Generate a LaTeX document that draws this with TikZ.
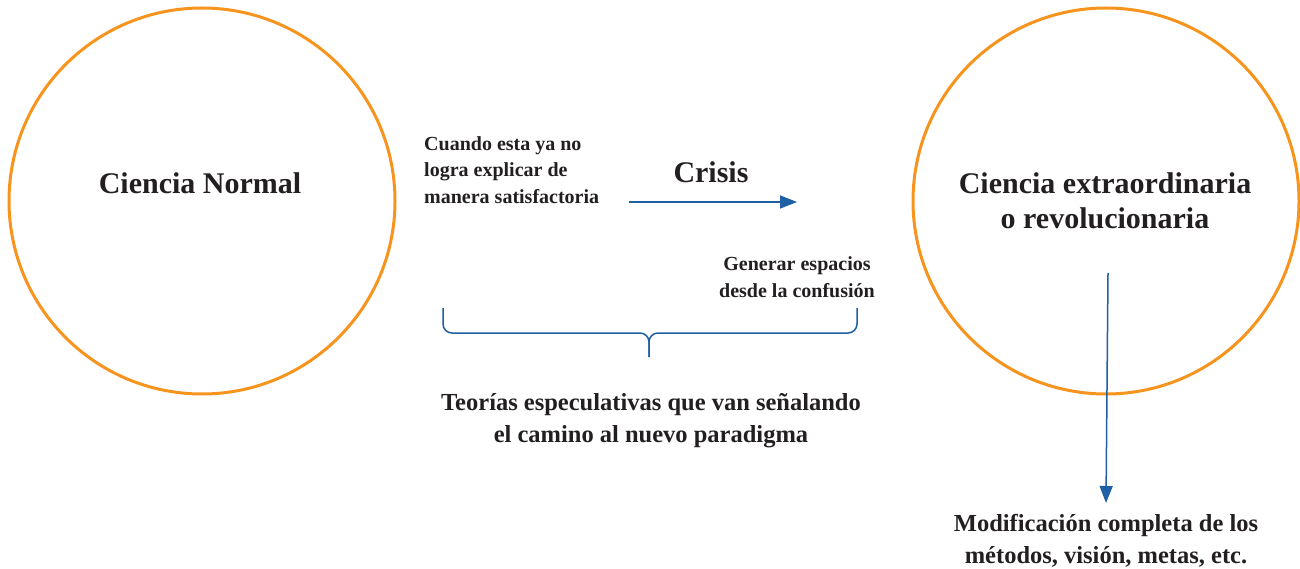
\documentclass[tikz,border=0pt]{standalone}
\usepackage{fontspec}
\setmainfont{Liberation Serif}
\usetikzlibrary{arrows.meta}
\definecolor{ringorange}{HTML}{F7941D}
\definecolor{arrowblue}{HTML}{1F5FA3}
\definecolor{txt}{HTML}{231F20}
\tikzset{
  ring/.style={circle, draw=ringorange, line width=3pt, minimum size=386pt, inner sep=0pt},
  bigtxt/.style={font=\bfseries\fontsize{30}{35}\selectfont, text=txt, align=center, inner sep=0pt},
  midtxt/.style={font=\bfseries\fontsize{24.5}{32}\selectfont, text=txt, align=center, inner sep=0pt},
  smalltxt/.style={font=\bfseries\fontsize{20}{26.5}\selectfont, text=txt, inner sep=0pt},
  conn/.style={draw=arrowblue, line width=1.5pt, -{Triangle[length=17pt,width=13pt]}},
  bracepath/.style={draw=arrowblue, line width=1.5pt, rounded corners=9pt}
}
\begin{document}
\begin{tikzpicture}[x=1pt,y=-1pt]
\useasboundingbox (0,0) rectangle (1300,569);
\node[ring] (left) at (202,201) {};
\node[ring] (right) at (1106,201) {};
\node[bigtxt] (cn) at (200,183) {Ciencia Normal};
\node[bigtxt] (ce) at (1105,201) {Ciencia extraordinaria\\o revolucionaria};
\node[smalltxt, anchor=west, align=left] (cuando) at (424,170) {Cuando esta ya no\\logra explicar de\\manera satisfactoria};
\node[bigtxt] (crisis) at (711,172) {Crisis};
\node[smalltxt, align=center] (gen) at (797,277) {Generar espacios\\desde la confusión};
\node[midtxt] (teo) at (651,421) {Teorías especulativas que van señalando\\el camino al nuevo paradigma};
\node[midtxt] (mod) at (1106,541) {Modificación completa de los\\métodos, visión, metas, etc.};
\coordinate (h1) at (629,202);
\coordinate (h2) at (797,202);
\draw[conn] (h1) -- (h2);
\coordinate (v1) at (1108,273);
\coordinate (v2) at (1106,503);
\draw[conn] (v1) -- (v2);
\coordinate (bl) at (443,308);
\coordinate (br) at (857,308);
\coordinate (bm) at (649,333);
\coordinate (bt) at (649,357);
\draw[bracepath] (bl) |- (bm) -- (bt);
\draw[bracepath] (br) |- (bm) -- (bt);
\end{tikzpicture}
\end{document}
